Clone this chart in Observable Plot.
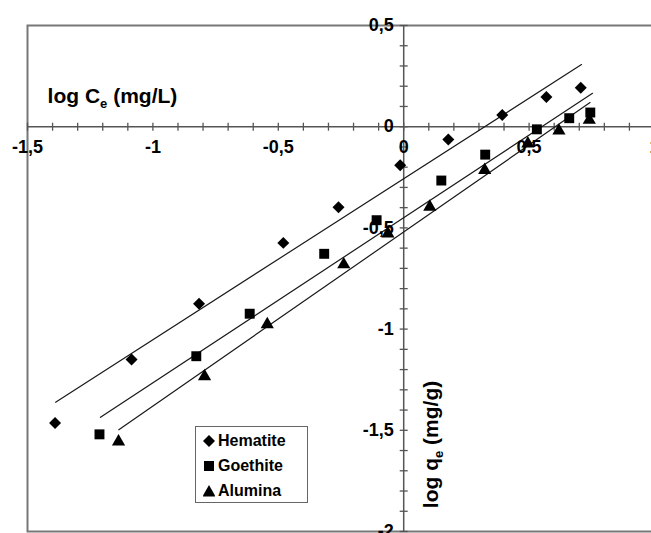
<!DOCTYPE html>
<html><head><meta charset="utf-8">
<script src="https://cdn.jsdelivr.net/npm/d3@7"></script>
<script src="https://cdn.jsdelivr.net/npm/@observablehq/plot@0.6"></script>
<style>
body{margin:0;background:#fff;}
#wrap{position:relative;width:651px;height:533px;overflow:hidden;}
#legend{position:absolute;left:195px;top:426px;width:111px;height:75px;border:1.5px solid #666;background:#fff;font:bold 16px "Liberation Sans",Arial,sans-serif;color:#000;}
.row{position:absolute;left:7px;height:20px;display:flex;align-items:center;}
.row svg{margin-right:3px;}
</style></head><body><div id="wrap"><div id="legend"></div></div>
<script>
// Series names
const seriesNames = ["Hematite", "Goethite", "Alumina"];

// Data points (log Ce, log qe)
const hematiteX = [-1.390, -1.085, -0.816, -0.480, -0.260, -0.014, 0.178, 0.393, 0.569, 0.706];
const hematiteY = [-1.464, -1.150, -0.875, -0.574, -0.398, -0.190, -0.063, 0.058, 0.147, 0.192];
const goethiteX = [-1.213, -0.827, -0.614, -0.317, -0.108, 0.150, 0.325, 0.531, 0.660, 0.744];
const goethiteY = [-1.520, -1.134, -0.924, -0.628, -0.462, -0.266, -0.138, -0.013, 0.042, 0.070];
const aluminaX = [-1.137, -0.794, -0.544, -0.239, -0.063, 0.104, 0.323, 0.495, 0.619, 0.740];
const aluminaY = [-1.556, -1.234, -0.977, -0.681, -0.528, -0.396, -0.215, -0.084, -0.020, 0.033];

// Fitted lines (endpoints)
const hematiteFitX = [-1.388, 0.709];
const hematiteFitY = [-1.361, 0.307];
const goethiteFitX = [-1.209, 0.753];
const goethiteFitY = [-1.436, 0.165];
const aluminaFitX = [-1.136, 0.743];
const aluminaFitY = [-1.497, 0.119];

// Ticks
const xTickValues = [-1.5, -1, -0.5, 0, 0.5, 1];
const xTickLabels = ["-1,5", "-1", "-0,5", "0", "0,5", "1"];
const yTickValues = [0.5, 0, -0.5, -1, -1.5, -2];
const yTickLabels = ["0,5", "0", "-0,5", "-1", "-1,5", "-2"];
const xMinorTicks = d3.ticks(-1.5, 1, 25);
const yMinorTicks = d3.ticks(-2, 0.5, 25);

const xTitle = "log Ce (mg/L)";
const yTitle = "log qe (mg/g)";

const toRows = (name, xs, ys) => xs.map((x, i) => ({series: name, x, y: ys[i]}));
const hem = toRows("Hematite", hematiteX, hematiteY);
const goe = toRows("Goethite", goethiteX, goethiteY);
const alu = toRows("Alumina", aluminaX, aluminaY);
const fits = [
  ...toRows("Hematite", hematiteFitX, hematiteFitY),
  ...toRows("Goethite", goethiteFitX, goethiteFitY),
  ...toRows("Alumina", aluminaFitX, aluminaFitY)
];

const vTick = {draw(ctx) { ctx.moveTo(0, -4); ctx.lineTo(0, 4); }};
const hTick = {draw(ctx) { ctx.moveTo(-4, 0); ctx.lineTo(4, 0); }};

const font = '"Liberation Sans", Arial, sans-serif';

const chart = Plot.plot({
  width: 651,
  height: 533,
  marginLeft: 27,
  marginRight: -3,
  marginTop: 25,
  marginBottom: 2,
  style: {fontFamily: font, background: "#fff", overflow: "hidden"},
  x: {domain: [-1.5, 1], axis: null},
  y: {domain: [-2, 0.5], axis: null},
  marks: [
    Plot.frame({stroke: "#777", strokeWidth: 2}),
    Plot.ruleY([0], {stroke: "#555", strokeWidth: 1.5}),
    Plot.ruleX([0], {stroke: "#555", strokeWidth: 1.5}),
    Plot.dot(xMinorTicks, {x: d => d, y: () => 0, symbol: vTick, stroke: "#555", strokeWidth: 1.3, fill: "none"}),
    Plot.dot(yMinorTicks, {x: () => 0, y: d => d, symbol: hTick, stroke: "#555", strokeWidth: 1.3, fill: "none"}),
    Plot.line(fits, {x: "x", y: "y", z: "series", stroke: "#1a1a1a", strokeWidth: 1.2}),
    Plot.dot(hem, {x: "x", y: "y", symbol: "diamond2", r: 5.4, fill: "#000", stroke: "none"}),
    Plot.dot(goe, {x: "x", y: "y", symbol: "square", r: 5.6, fill: "#000", stroke: "none"}),
    Plot.dot(alu, {x: "x", y: "y", symbol: "triangle", r: 4.9, fill: "#000", stroke: "none"}),
    Plot.text(xTickValues, {x: d => d, y: () => 0, text: (d, i) => xTickLabels[i], dy: 21, fontSize: 18, fontWeight: "bold", fill: "#000"}),
    Plot.text(yTickValues, {x: () => 0, y: d => d, text: (d, i) => yTickLabels[i], dx: -10, textAnchor: "end", fontSize: 18, fontWeight: "bold", fill: "#000"}),
    Plot.text([xTitle], {x: () => -1.42, y: () => 0.15, text: d => d, textAnchor: "start", fontSize: 21, fontWeight: "bold", fill: "#000"}),
    Plot.text([yTitle], {x: () => 0.11, y: () => -1.57, text: d => d, rotate: -90, fontSize: 21, fontWeight: "bold", fill: "#000"})
  ]
});

// subscript e in axis titles
d3.select(chart).selectAll("text").each(function() {
  const t = this.textContent;
  if (t === xTitle || t === yTitle) {
    const parts = t.split("e (");
    const sel = d3.select(this);
    sel.text(null);
    sel.append("tspan").text(parts[0]);
    sel.append("tspan").attr("dy", 5).attr("font-size", 13).text("e");
    sel.append("tspan").attr("dy", -5).text(" (" + parts[1]);
  }
});

const wrap = document.getElementById("wrap");
wrap.insertBefore(chart, wrap.firstChild);

// Legend
const legend = document.getElementById("legend");
const shapes = {
  Hematite: '<svg width="12" height="14" viewBox="-6 -7 12 14"><path d="M0,-6L6,0L0,6L-6,0Z" fill="#000"/></svg>',
  Goethite: '<svg width="12" height="14" viewBox="-6 -7 12 14"><rect x="-5" y="-5" width="10" height="10" fill="#000"/></svg>',
  Alumina: '<svg width="12" height="14" viewBox="-6 -7 12 14"><path d="M0,-6L6.5,5.5L-6.5,5.5Z" fill="#000"/></svg>'
};
seriesNames.forEach((name, i) => {
  const row = document.createElement("div");
  row.className = "row";
  row.style.top = (4 + i * 25) + "px";
  row.innerHTML = shapes[name] + "<span>" + name + "</span>";
  legend.appendChild(row);
});
</script>
</body></html>
